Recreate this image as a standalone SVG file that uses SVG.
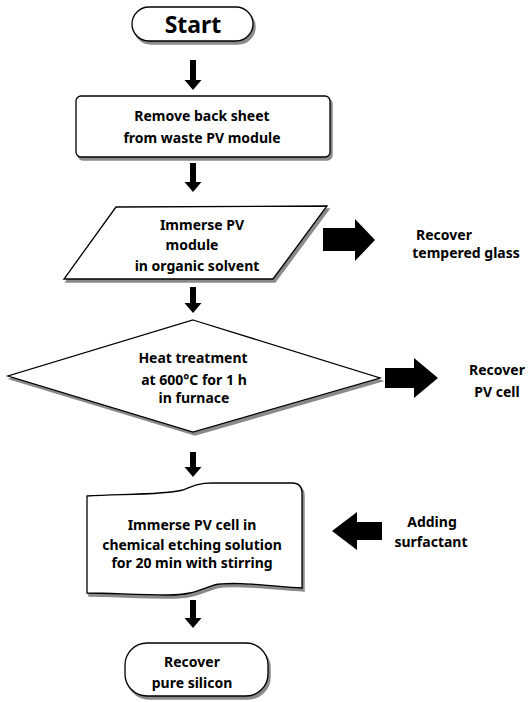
<svg xmlns="http://www.w3.org/2000/svg" width="528" height="702" viewBox="0 0 528 702">
<style>
  .shape { fill: #ffffff; stroke: #000000; stroke-width: 1.3; }
  .shadow { fill: #8a8a8a; stroke: #8a8a8a; stroke-width: 1.5; }
  .t { font-family: "Noto Sans", "Open Sans", "Liberation Sans", sans-serif; font-weight: 700; font-size: 14px; fill: #000; text-anchor: middle; }
  .big { font-size: 23px; }
  .arrow { fill: #000; stroke: none; }
</style>
<rect x="0" y="0" width="528" height="702" fill="#ffffff"/>

<g id="start">
  <rect class="shadow" x="134" y="10" width="121" height="34" rx="17"/>
  <rect class="shape" x="132" y="7" width="121" height="34" rx="17"/>
  <text class="t big" x="193" y="33">Start</text>
</g>

<g id="remove-back-sheet">
  <rect class="shadow" x="78" y="99" width="254" height="61" rx="5"/>
  <rect class="shape" x="76" y="96" width="254" height="61" rx="5"/>
  <text class="t" x="202" y="121">Remove back sheet</text>
  <text class="t" x="202" y="143">from waste PV module</text>
</g>

<g id="immerse-module">
  <polygon class="shadow" points="118,210 329,209 275,282 66,282"/>
  <polygon class="shape" points="116,207 327,206 273,279 64,279"/>
  <text class="t" x="202" y="230">Immerse PV</text>
  <text class="t" x="192" y="250">module</text>
  <text class="t" x="197" y="271">in organic solvent</text>
</g>

<g id="recover-glass">
  <text class="t" x="444" y="240">Recover</text>
  <text class="t" x="466" y="258">tempered glass</text>
</g>

<g id="heat-treatment">
  <polygon class="shadow" points="195,323 382,381 195,435 10,379"/>
  <polygon class="shape" points="193,320 380,378 193,432 8,376"/>
  <text class="t" x="193" y="363">Heat treatment</text>
  <text class="t" x="194" y="385">at 600°C for 1 h</text>
  <text class="t" x="194" y="403">in furnace</text>
</g>

<g id="recover-cell">
  <text class="t" x="497" y="375">Recover</text>
  <text class="t" x="497" y="397">PV cell</text>
</g>

<g id="etching">
  <path class="shadow" transform="translate(2,3)" d="M87,496 C120,494 165,495 183,490 C193,486 198,483 212,483 L292,483 Q302,483 302,493 L302,588 C270,586 232,581 214,585 C200,589 194,595 168,595 C138,595 110,593 87,593 Z"/>
  <path class="shape" d="M87,496 C120,494 165,495 183,490 C193,486 198,483 212,483 L292,483 Q302,483 302,493 L302,588 C270,586 232,581 214,585 C200,589 194,595 168,595 C138,595 110,593 87,593 Z"/>
  <text class="t" x="192" y="530">Immerse PV cell in</text>
  <text class="t" x="192" y="550">chemical etching solution</text>
  <text class="t" x="192" y="568">for 20 min with stirring</text>
</g>

<g id="adding-surfactant">
  <text class="t" x="432" y="527">Adding</text>
  <text class="t" x="431" y="547">surfactant</text>
</g>

<g id="recover-silicon">
  <rect class="shadow" x="127" y="646" width="143" height="53" rx="22"/>
  <rect class="shape" x="125" y="643" width="143" height="53" rx="22"/>
  <text class="t" x="192" y="667">Recover</text>
  <text class="t" x="192" y="688">pure silicon</text>
</g>

<g id="connectors">
  <path class="arrow" d="M190,60 H196 V80 H201.5 L193,90 L184.5,80 H190 Z"/>
  <path class="arrow" d="M190,163 H196 V182 H201.5 L193,192 L184.5,182 H190 Z"/>
  <path class="arrow" d="M190,287 H196 V303 H201.5 L193,313 L184.5,303 H190 Z"/>
  <path class="arrow" d="M190,452 H196 V467 H201.5 L193,477 L184.5,467 H190 Z"/>
  <path class="arrow" d="M190,600 H196 V618 H201.5 L193,628 L184.5,618 H190 Z"/>
  <path class="arrow" d="M323,228 H355 V219 L375,240 L355,261 V251 H323 Z"/>
  <path class="arrow" d="M385,368 H414 V358 L438,378 L414,398 V388 H385 Z"/>
  <path class="arrow" d="M382,522 H357 V512 L332,531 L357,550 V540 H382 Z"/>
</g>
</svg>
